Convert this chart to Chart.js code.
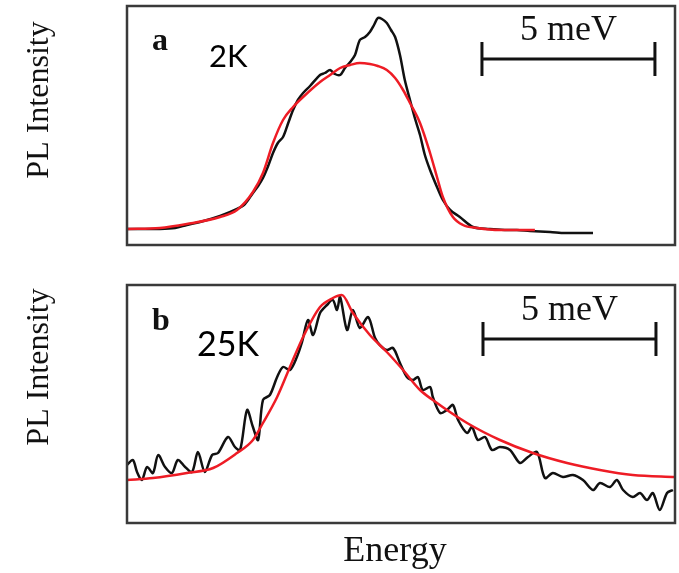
<!DOCTYPE html>
<html>
<head>
<meta charset="utf-8">
<script src="https://cdn.jsdelivr.net/npm/chart.js@4"></script>
<style>
  body { margin: 0; background: #fff; }
  .wrap { position: absolute; left: 0; width: 679px; }
  #wa { top: 0; height: 265px; }
  #wb { top: 265px; height: 308px; }
</style>
</head>
<body>
<div class="wrap" id="wa"><canvas id="chartA" width="679" height="265"></canvas></div>
<div class="wrap" id="wb"><canvas id="chartB" width="679" height="308"></canvas></div>
<script>
// PL spectra, energy in meV (from left edge of frame), intensity in arbitrary units

// panel a, 2K: measured spectrum
var energyA = [0,0.38,0.95,1.39,1.73,2.11,2.69,3.18,3.41,3.64,3.79,3.93,4.08,4.22,4.36,4.51,4.65,4.80,4.94,5.09,
  5.29,5.58,5.72,5.87,6.01,6.16,6.30,6.45,6.59,6.73,6.88,7.02,7.14,7.25,7.37,7.51,7.63,7.75,7.89,8.03,
  8.18,8.32,8.47,8.61,8.76,8.96,9.13,9.34,9.62,10.00,10.49,10.92,11.27,11.65,12.23,12.66,13.09,13.47];
var intensityA = [16,16,16,17,20,23,29,36,41,52,59,67,79,92,102,108,121,135,145,152,
  159,170,172,175,171,170,177,183,190,205,208,213,220,227,226,222,215,208,190,165,
  145,127,110,90,75,58,45,35,28,18,16,15,15,14,13,12,12,12];

// panel a: fit
var fitEnergyA = [0,0.95,1.73,2.69,3.18,3.64,3.93,4.22,4.51,4.80,5.09,5.58,5.87,6.16,6.45,6.73,7.02,7.25,7.51,7.75,
  7.98,8.18,8.47,8.76,8.96,9.13,9.42,9.71,10.12,10.78,11.79];
var fitA = [16,17,21,28,35,53,72,102,125,138,148,163,170,177,180,182,181,179,175,167,
  155,142,122,92,68,48,28,20,17,15,15];

// panel b, 25K: measured spectrum
var energyB = [0,0.17,0.29,0.43,0.58,0.75,0.90,1.10,1.30,1.47,1.68,1.88,2.05,2.25,2.46,2.63,2.92,3.12,3.27,3.47,
  3.64,3.79,3.93,4.13,4.34,4.51,4.71,4.91,5.06,5.23,5.38,5.58,5.78,5.95,6.07,6.16,6.36,6.53,6.73,6.97,
  7.17,7.31,7.51,7.69,7.89,8.09,8.27,8.41,8.55,8.76,8.84,9.05,9.25,9.42,9.57,9.83,9.97,10.14,10.35,10.55,
  10.78,11.07,11.36,11.59,11.85,12.08,12.31,12.60,12.89,13.18,13.47,13.67,13.96,14.16,14.34,14.62,14.83,15.03,15.20,15.40,
  15.61,15.78];
var intensityB = [58,63,51,43,56,50,68,56,50,63,56,51,71,51,68,70,86,76,73,113,
  96,83,123,128,146,156,153,166,181,203,188,210,218,223,213,226,193,213,195,206,
  185,178,173,175,160,146,143,146,133,136,126,110,113,118,103,90,96,83,86,73,
  76,73,60,66,71,45,50,46,48,43,33,40,36,43,33,26,30,23,30,13,
  30,33];

// panel b: fit
var fitEnergyB = [0,0.75,1.73,2.49,3.18,3.64,3.93,4.34,4.71,5.09,5.58,5.95,6.21,6.53,7.02,7.51,7.98,8.47,8.84,9.83,
  10.78,11.73,12.72,13.67,14.62,15.84];
var fitB = [43,45,50,55,70,83,100,126,156,186,216,225,228,210,188,171,153,133,123,100,
  83,70,60,53,48,46];

var axisLabel = 'PL Intensity';
var energyLabel = 'Energy';
var scaleBarText = '5 meV';
var scaleBarMeV = 5;

function pts(xs, ys) {
  return xs.map(function(x, i) { return { x: x, y: ys[i] }; });
}

var SERIF = '"Liberation Serif", "Times New Roman", serif';

// frame, scale bar and all the panel text
var decor = {
  id: 'decor',
  afterDraw: function(chart, args, o) {
    var ctx = chart.ctx, a = chart.chartArea;
    var xs = chart.scales.x, ys = chart.scales.y;
    ctx.save();
    ctx.strokeStyle = '#3a3a3a';
    ctx.lineWidth = 2.5;
    ctx.strokeRect(a.left, a.top, a.right - a.left, a.bottom - a.top);

    // scale bar
    var x1 = xs.getPixelForValue(o.barStart);
    var x2 = xs.getPixelForValue(o.barStart + scaleBarMeV);
    var yb = ys.getPixelForValue(o.barY);
    ctx.strokeStyle = '#111';
    ctx.lineWidth = 3;
    ctx.beginPath();
    ctx.moveTo(x1, yb); ctx.lineTo(x2, yb);
    ctx.moveTo(x1, yb - 17); ctx.lineTo(x1, yb + 17);
    ctx.moveTo(x2, yb - 17); ctx.lineTo(x2, yb + 17);
    ctx.stroke();

    ctx.fillStyle = '#111';
    ctx.textAlign = 'center';
    ctx.textBaseline = 'alphabetic';
    ctx.font = '36px ' + SERIF;
    ctx.fillText(scaleBarText, (x1 + x2) / 2, yb - 19);

    ctx.textAlign = 'left';
    ctx.font = 'bold 32px ' + SERIF;
    ctx.fillText(o.letter, 152, o.letterY);

    ctx.fillStyle = '#000';
    ctx.font = o.tempSize + 'px Lato, "Open Sans", sans-serif';
    ctx.fillText(o.temp, o.tempX, o.tempY);

    ctx.fillStyle = '#111';
    ctx.font = '32px ' + SERIF;
    ctx.save();
    ctx.translate(40, o.labelY);
    ctx.rotate(-Math.PI / 2);
    ctx.textAlign = 'center';
    ctx.textBaseline = 'middle';
    ctx.fillText(axisLabel, 0, 0);
    ctx.restore();

    if (o.energy) {
      ctx.textAlign = 'center';
      ctx.font = '36px ' + SERIF;
      ctx.fillText(energyLabel, 395, o.energyY);
    }
    ctx.restore();
  }
};

function makeChart(id, meas, fit, yMax, pad, deco) {
  return new Chart(document.getElementById(id), {
    type: 'line',
    data: {
      datasets: [{
        label: 'fit',
        data: fit,
        borderColor: '#ee1c25',
        borderWidth: 2.5,
        pointRadius: 0,
        tension: 0.4,
        cubicInterpolationMode: 'monotone'
      }, {
        label: 'PL',
        data: meas,
        borderColor: '#111',
        borderWidth: 2.5,
        pointRadius: 0,
        tension: 0.3
      }]
    },
    options: {
      responsive: false,
      animation: false,
      devicePixelRatio: 1,
      layout: { padding: pad },
      plugins: { legend: { display: false }, tooltip: { enabled: false }, decor: deco },
      scales: {
        x: { type: 'linear', min: 0, max: 15.84, display: false },
        y: { min: 0, max: yMax, display: false }
      }
    },
    plugins: [decor]
  });
}

makeChart('chartA', pts(energyA, intensityA), pts(fitEnergyA, fitA), 239,
  { left: 127, right: 4, top: 6, bottom: 20 },
  { barStart: 10.26, barY: 186, letter: 'a', letterY: 50, temp: '2K', tempX: 209, tempY: 67, tempSize: 31, labelY: 100 });

makeChart('chartB', pts(energyB, intensityB), pts(fitEnergyB, fitB), 238,
  { left: 127, right: 4, top: 20, bottom: 50 },
  { barStart: 10.29, barY: 184, letter: 'b', letterY: 65, temp: '25K', tempX: 197, tempY: 91, tempSize: 34, labelY: 102, energy: true, energyY: 296 });
</script>
</body>
</html>
